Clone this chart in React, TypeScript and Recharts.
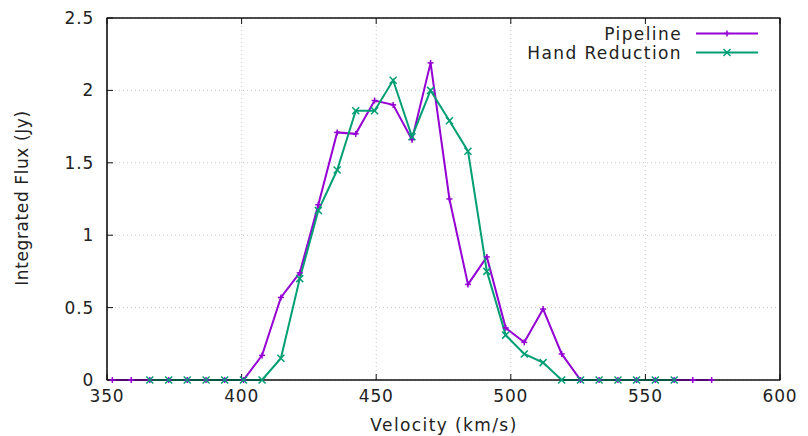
import React from 'react';
import { LineChart, Line, XAxis, YAxis, CartesianGrid, ReferenceArea } from 'recharts';

const velocity = [
  352.0, 359.0, 365.9, 372.9, 379.8, 386.8, 393.7, 400.7, 407.6, 414.6, 421.6,
  428.5, 435.5, 442.4, 449.4, 456.3, 463.3, 470.2, 477.2, 484.1, 491.1, 498.1,
  505.0, 512.0, 518.9, 525.9, 532.8, 539.8, 546.7, 553.7, 560.7, 567.6, 574.6,
];
const pipeline = [
  0, 0, 0, 0, 0, 0, 0, 0, 0.17, 0.57, 0.74, 1.21, 1.71, 1.7, 1.93, 1.9, 1.66,
  2.19, 1.25, 0.66, 0.85, 0.36, 0.26, 0.49, 0.18, 0, 0, 0, 0, 0, 0, 0, 0,
];
const handReduction = [
  null, null, 0, 0, 0, 0, 0, 0, 0, 0.15, 0.7, 1.17, 1.45, 1.86, 1.86, 2.07, 1.68,
  2.0, 1.79, 1.58, 0.75, 0.31, 0.18, 0.12, 0, 0, 0, 0, 0, 0, 0, null, null,
];
const xTicks = [350, 400, 450, 500, 550, 600];
const yTicks = [0, 0.5, 1, 1.5, 2, 2.5];

const PURPLE = '#9400d3';
const GREEN = '#009e73';
const FONT = '"DejaVu Sans", sans-serif';

const chartData = velocity.map((v, i) => ({ v, pipeline: pipeline[i], hand: handReduction[i] }));

const PlusDot = (props: any) => {
  const { cx, cy, value } = props;
  if (value == null || cx == null) return null;
  return (
    <g stroke={PURPLE} strokeWidth={1.5}>
      <line x1={cx - 3} y1={cy} x2={cx + 3} y2={cy} />
      <line x1={cx} y1={cy - 3} x2={cx} y2={cy + 3} />
    </g>
  );
};

const CrossDot = (props: any) => {
  const { cx, cy, value } = props;
  if (value == null || cx == null) return null;
  return (
    <g stroke={GREEN} strokeWidth={1.5}>
      <line x1={cx - 3.5} y1={cy - 3.5} x2={cx + 3.5} y2={cy + 3.5} />
      <line x1={cx - 3.5} y1={cy + 3.5} x2={cx + 3.5} y2={cy - 3.5} />
    </g>
  );
};

const LegendBox = () => {
  const rows = [
    { name: 'Pipeline', color: PURPLE, Dot: PlusDot },
    { name: 'Hand Reduction', color: GREEN, Dot: CrossDot },
  ];
  return (
    <div style={{ position: 'absolute', top: 24, right: 50, fontFamily: FONT, fontSize: 17, color: '#222' }}>
      {rows.map((r) => (
        <div key={r.name} style={{ display: 'flex', alignItems: 'center', justifyContent: 'flex-end', height: 19 }}>
          <span style={{ letterSpacing: 1.4 }}>{r.name}</span>
          <svg width={64} height={19} style={{ marginLeft: 12 }}>
            <line x1={2} y1={9.5} x2={64} y2={9.5} stroke={r.color} strokeWidth={2} />
            <r.Dot cx={33} cy={9.5} value={1} />
          </svg>
        </div>
      ))}
    </div>
  );
};

const YTitle = () => (
  <text
    x={22}
    y={198}
    transform="rotate(-90, 22, 198)"
    textAnchor="middle"
    dominantBaseline="central"
    fontFamily={FONT}
    fontSize={17}
    letterSpacing={0.6}
    fill="#222"
  >
    Integrated Flux (Jy)
  </text>
);

const XTitle = () => (
  <text
    x={444}
    y={425}
    textAnchor="middle"
    dominantBaseline="central"
    fontFamily={FONT}
    fontSize={17}
    letterSpacing={1.4}
    fill="#222"
  >
    Velocity (km/s)
  </text>
);

const tickStyle = { fontFamily: FONT, fontSize: 17, fill: '#222', letterSpacing: 0.8 };

export default function App() {
  return (
    <div style={{ position: 'absolute', left: 0, top: 0, width: 808, height: 436, background: '#fff' }}>
      <LineChart width={808} height={436} data={chartData} margin={{ top: 17, right: 27, bottom: 0, left: 0 }}>
        <CartesianGrid stroke="#c8c8c8" strokeDasharray="1 3" />
        <XAxis
          dataKey="v"
          type="number"
          domain={[350, 600]}
          ticks={xTicks}
          height={56}
          stroke="#111"
          tickSize={-6}
          tickMargin={16}
          tick={tickStyle}
          label={<XTitle />}
        />
        <XAxis
          xAxisId="top"
          orientation="top"
          dataKey="v"
          type="number"
          domain={[350, 600]}
          ticks={xTicks}
          height={1}
          stroke="#111"
          tickSize={-6}
          tickFormatter={() => ''}
        />
        <YAxis
          type="number"
          domain={[0, 2.5]}
          ticks={yTicks}
          width={107}
          stroke="#111"
          tickSize={-6}
          tickMargin={19}
          tick={tickStyle}
          label={<YTitle />}
        />
        <YAxis
          yAxisId="right"
          orientation="right"
          type="number"
          domain={[0, 2.5]}
          ticks={yTicks}
          width={1}
          stroke="#111"
          tickSize={-6}
          tickFormatter={() => ''}
        />
        <ReferenceArea x1={350} x2={600} y1={0} y2={2.5} fill="none" stroke="#111" strokeWidth={1.2} ifOverflow="visible" />
        <Line
          dataKey="pipeline"
          stroke={PURPLE}
          strokeWidth={2}
          dot={<PlusDot />}
          activeDot={false}
          isAnimationActive={false}
        />
        <Line
          dataKey="hand"
          stroke={GREEN}
          strokeWidth={2}
          dot={<CrossDot />}
          activeDot={false}
          isAnimationActive={false}
        />
      </LineChart>
      <LegendBox />
    </div>
  );
}
